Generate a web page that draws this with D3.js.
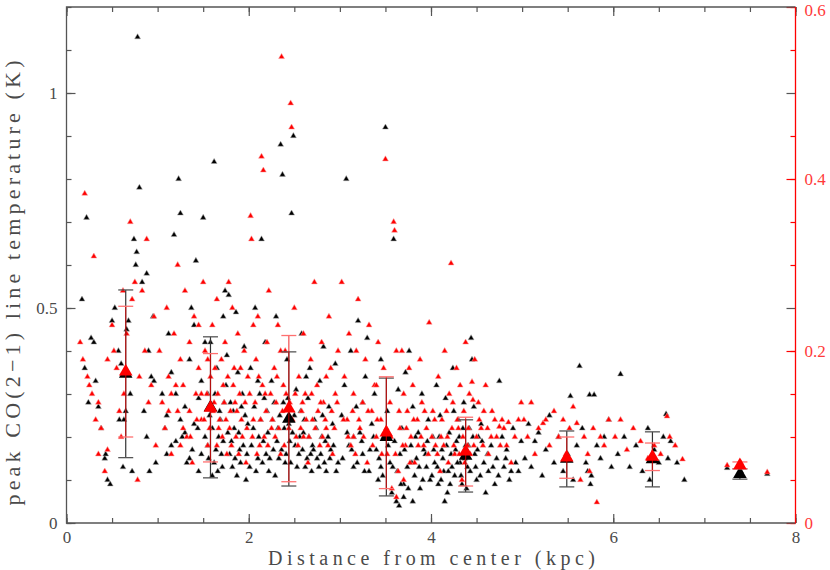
<!DOCTYPE html>
<html>
<head>
<meta charset="utf-8">
<script src="https://cdn.jsdelivr.net/npm/d3@7"></script>
<style>
  body { margin: 0; background: #fff; }
</style>
</head>
<body>
<svg id="chart" width="830" height="570"></svg>
<script>
// black points: [distance kpc, peak CO(2-1) K] (left axis)
const blackPts = [
  [0.17,0.52],[0.22,0.71],[0.2,0.36],[0.24,0.28],[0.27,0.43],[0.3,0.42],[0.32,0.33],[0.35,0.27],[0.38,0.22],[0.42,0.15],
  [0.45,0.1],[0.48,0.09],[0.5,0.47],[0.53,0.5],[0.57,0.4],[0.6,0.37],[0.63,0.24],[0.65,0.26],[0.7,0.3],[0.72,0.12],
  [0.74,0.66],[0.77,0.63],[0.8,0.78],[0.78,1.13],[0.76,0.6],[0.83,0.56],[0.88,0.58],[0.85,0.26],[0.88,0.2],[0.93,0.34],
  [0.96,0.33],[0.98,0.14],[0.91,0.12],[0.62,0.13],[0.58,0.24],[0.43,0.16],[0.68,0.47],[0.66,0.45],[0.9,0.4],[0.95,0.48],
  [1.05,0.3],[1.08,0.22],[1.1,0.16],[1.12,0.44],[1.15,0.35],[1.18,0.67],[1.2,0.3],[1.23,0.8],[1.25,0.72],[1.27,0.2],
  [1.3,0.27],[1.32,0.14],[1.35,0.38],[1.37,0.5],[1.4,0.23],[1.42,0.61],[1.45,0.12],[1.48,0.33],[1.5,0.71],[1.52,0.42],
  [1.55,0.18],[1.57,0.25],[1.6,0.11],[1.62,0.84],[1.63,0.3],[1.65,0.36],[1.67,0.2],[1.7,0.16],[1.72,0.48],[1.74,0.54],
  [1.76,0.39],[1.78,0.53],[1.8,0.28],[1.82,0.13],[1.84,0.22],[1.86,0.49],[1.88,0.35],[1.9,0.17],[1.92,0.27],[1.95,0.41],
  [1.97,0.1],[1.99,0.23],[1.15,0.18],[1.35,0.15],[1.55,0.3],[1.68,0.26],[1.72,0.19],[1.58,0.42],[1.45,0.29],[1.25,0.24],
  [1.85,0.15],[1.93,0.3],[1.75,0.32],[1.62,0.14],[1.4,0.46],
  [2.02,0.36],[2.05,0.22],[2.07,0.5],[2.1,0.15],[2.12,0.3],[2.14,0.66],[2.16,0.19],[2.18,0.42],[2.2,0.26],[2.22,0.12],
  [2.25,0.33],[2.27,0.17],[2.3,0.48],[2.32,0.22],[2.35,0.88],[2.37,0.81],[2.38,0.28],[2.4,0.14],[2.42,0.38],[2.45,0.19],
  [2.47,0.72],[2.49,0.9],[2.5,0.25],[2.52,0.31],[2.55,0.16],[2.58,0.44],[2.6,0.21],[2.62,0.13],[2.65,0.29],[2.67,0.36],
  [2.7,0.18],[2.72,0.24],[2.75,0.15],[2.78,0.33],[2.8,0.2],[2.82,0.41],[2.85,0.12],[2.88,0.27],[2.9,0.17],[2.92,0.23],
  [2.95,0.37],[2.98,0.14],[2.1,0.33],[2.28,0.28],[2.44,0.23],[2.56,0.2],[2.68,0.16],[2.84,0.19],[2.33,0.15],[2.63,0.34],
  [3.02,0.25],[3.05,0.32],[3.07,0.8],[3.1,0.18],[3.12,0.4],[3.15,0.13],[3.18,0.27],[3.2,0.47],[3.22,0.21],[3.25,0.16],
  [3.28,0.34],[3.3,0.43],[3.32,0.12],[3.35,0.23],[3.38,0.3],[3.4,0.17],[3.42,0.1],[3.45,0.38],[3.48,0.2],[3.5,0.92],
  [3.52,0.26],[3.55,0.14],[3.57,0.07],[3.59,0.66],[3.6,0.19],[3.62,0.05],[3.64,0.31],[3.66,0.16],[3.68,0.22],[3.7,0.09],
  [3.72,0.35],[3.74,0.13],[3.76,0.4],[3.78,0.18],[3.8,0.27],[3.82,0.11],[3.84,0.15],[3.86,0.21],[3.88,0.08],[3.9,0.3],
  [3.92,0.17],[3.95,0.13],[3.97,0.24],[3.99,0.1],[3.65,0.04],[3.7,0.06],[3.25,0.28],[3.45,0.13],[3.8,0.05],[3.15,0.2],
  [4.02,0.2],[4.04,0.14],[4.06,0.32],[4.08,0.09],[4.1,0.25],[4.12,0.17],[4.14,0.12],[4.16,0.29],[4.18,0.07],[4.2,0.21],
  [4.22,0.16],[4.24,0.36],[4.26,0.11],[4.28,0.19],[4.3,0.24],[4.32,0.14],[4.34,0.09],[4.36,0.28],[4.38,0.18],[4.4,0.13],
  [4.42,0.22],[4.44,0.43],[4.45,0.38],[4.47,0.27],[4.48,0.16],[4.5,0.1],[4.52,0.2],[4.55,0.23],[4.58,0.14],[4.6,0.07],
  [4.63,0.12],[4.66,0.18],[4.7,0.09],[4.72,0.15],[4.75,0.33],[4.78,0.2],[4.8,0.13],[4.83,0.17],[4.86,0.1],[4.9,0.22],
  [4.93,0.14],[4.96,0.12],[4.99,0.19],[4.15,0.05],[4.35,0.22],[4.25,0.26],
  [5.03,0.15],[5.07,0.23],[5.1,0.13],[5.14,0.19],[5.18,0.21],[5.22,0.11],[5.26,0.17],[5.3,0.25],[5.35,0.14],[5.4,0.2],
  [5.45,0.12],[5.5,0.16],[5.53,0.295],[5.56,0.1],[5.6,0.18],[5.63,0.365],[5.66,0.22],[5.7,0.14],[5.72,0.12],[5.74,0.298],
  [5.76,0.11],[5.79,0.298],[5.82,0.18],[5.86,0.15],[5.9,0.2],[5.95,0.24],[5.98,0.13],[5.75,0.09],
  [6.05,0.16],[6.08,0.346],[6.12,0.2],[6.18,0.13],[6.25,0.18],[6.32,0.12],[6.38,0.22],[6.45,0.17],[6.5,0.14],[6.55,0.2],
  [6.58,0.253],[6.6,0.15],[6.63,0.19],[6.7,0.14],[6.78,0.1],[6.4,0.1],
  [7.25,0.128],[7.4,0.12],[7.69,0.114],
  // dense band
  [1.52,0.2],[1.56,0.15],[1.6,0.22],[1.64,0.17],[1.66,0.12],[1.69,0.24],[1.71,0.13],[1.73,0.28],[1.77,0.21],[1.79,0.16],
  [1.81,0.19],[1.83,0.26],[1.87,0.11],[1.89,0.21],[1.91,0.14],[1.94,0.18],[1.96,0.25],[1.98,0.16],[2.01,0.13],[2.03,0.18],
  [2.06,0.27],[2.08,0.12],[2.11,0.2],[2.13,0.24],[2.15,0.14],[2.17,0.29],[2.19,0.16],[2.21,0.21],[2.23,0.15],[2.26,0.24],
  [2.29,0.11],[2.31,0.19],[2.34,0.25],[2.36,0.17],[2.39,0.22],[2.41,0.16],[2.43,0.29],[2.46,0.14],[2.48,0.21],[2.51,0.18],
  [2.53,0.13],[2.57,0.26],[2.59,0.17],[2.61,0.24],[2.64,0.15],[2.66,0.2],[2.69,0.12],[2.71,0.17],[2.74,0.22],[2.77,0.13],
  [2.79,0.16],[2.81,0.25],[2.83,0.14],[2.87,0.2],[2.89,0.15],[2.93,0.18],[2.96,0.12],[3.03,0.15],[3.08,0.21],[3.13,0.17],
  [3.19,0.14],[3.24,0.19],[3.27,0.12],[3.33,0.17],[3.37,0.2],[3.43,0.15],[3.47,0.11],[3.53,0.18],[3.58,0.13],[3.63,0.12],
  [3.67,0.09],[3.71,0.17],[3.75,0.08],[3.79,0.14],[3.83,0.2],[3.87,0.13],[3.91,0.1],[3.94,0.16],[3.96,0.19],[4.01,0.11],
  [4.03,0.17],[4.07,0.13],[4.09,0.2],[4.11,0.1],[4.13,0.15],[4.17,0.18],[4.19,0.12],[4.21,0.09],[4.23,0.13],[4.27,0.17],
  [4.29,0.14],[4.31,0.2],[4.33,0.11],[4.37,0.15],[4.39,0.08],[4.41,0.18],[4.43,0.12],[4.46,0.2],[4.49,0.13],[4.51,0.17],
  [4.54,0.11],[4.56,0.19],[4.62,0.16],[4.68,0.13],[4.74,0.11],[4.82,0.15],[4.88,0.12],[1.1,0.25],[1.2,0.19],[1.3,0.21],
  [1.38,0.17],[1.44,0.22],[1.48,0.16]
];

// red points: [distance kpc, value on the red right axis]
const redPts = [
  [0.2,0.383],[0.3,0.31],[0.15,0.21],[0.18,0.19],[0.23,0.17],[0.25,0.16],[0.28,0.15],[0.32,0.12],[0.35,0.08],[0.38,0.11],
  [0.42,0.06],[0.45,0.085],[0.5,0.23],[0.52,0.2],[0.55,0.18],[0.58,0.13],[0.6,0.1],[0.63,0.15],[0.66,0.22],[0.7,0.35],
  [0.72,0.26],[0.75,0.28],[0.78,0.05],[0.8,0.17],[0.83,0.27],[0.86,0.2],[0.88,0.33],[0.9,0.14],[0.93,0.16],[0.96,0.24],
  [0.98,0.09],[0.62,0.27],[0.45,0.19],[0.35,0.14],
  [1.02,0.2],[1.05,0.14],[1.08,0.11],[1.1,0.25],[1.12,0.17],[1.15,0.08],[1.18,0.22],[1.22,0.3],[1.22,0.13],[1.25,0.19],
  [1.28,0.16],[1.3,0.27],[1.32,0.1],[1.35,0.21],[1.38,0.07],[1.4,0.24],[1.42,0.15],[1.45,0.18],[1.48,0.12],[1.5,0.28],
  [1.52,0.2],[1.55,0.09],[1.58,0.17],[1.6,0.23],[1.62,0.14],[1.65,0.26],[1.67,0.11],[1.7,0.19],[1.72,0.16],[1.74,0.21],
  [1.76,0.08],[1.78,0.28],[1.8,0.13],[1.82,0.25],[1.84,0.18],[1.86,0.1],[1.88,0.22],[1.9,0.15],[1.92,0.12],[1.95,0.2],
  [1.97,0.07],[1.99,0.17],[1.15,0.15],[1.35,0.13],[1.55,0.19],[1.75,0.12],[1.65,0.09],[1.45,0.23],[1.25,0.09],[1.85,0.14],
  [2.02,0.357],[2.03,0.33],[2.05,0.12],[2.08,0.19],[2.1,0.24],[2.12,0.09],[2.14,0.426],[2.16,0.41],[2.18,0.15],[2.2,0.21],
  [2.22,0.27],[2.25,0.11],[2.28,0.18],[2.3,0.14],[2.32,0.23],[2.35,0.08],[2.36,0.542],[2.38,0.16],[2.4,0.2],[2.42,0.12],
  [2.46,0.488],[2.47,0.46],[2.5,0.25],[2.52,0.1],[2.55,0.17],[2.58,0.13],[2.6,0.22],[2.62,0.15],[2.65,0.07],[2.68,0.19],
  [2.7,0.12],[2.72,0.28],[2.75,0.16],[2.78,0.09],[2.8,0.21],[2.82,0.14],[2.85,0.11],[2.88,0.24],[2.9,0.18],[2.92,0.08],
  [2.95,0.15],[2.98,0.2],[2.15,0.16],[2.45,0.14],[2.6,0.1],[2.85,0.17],[2.35,0.2],[2.05,0.23],
  [3.02,0.28],[3.05,0.17],[3.08,0.12],[3.1,0.22],[3.12,0.09],[3.15,0.15],[3.18,0.2],[3.2,0.26],[3.22,0.11],[3.25,0.14],
  [3.28,0.19],[3.3,0.07],[3.32,0.23],[3.35,0.13],[3.38,0.16],[3.4,0.1],[3.42,0.21],[3.45,0.12],[3.48,0.18],[3.5,0.423],
  [3.52,0.08],[3.55,0.14],[3.57,0.04],[3.59,0.35],[3.6,0.34],[3.62,0.2],[3.64,0.06],[3.66,0.11],[3.68,0.2],[3.7,0.15],
  [3.72,0.09],[3.74,0.13],[3.76,0.18],[3.78,0.1],[3.8,0.16],[3.82,0.07],[3.85,0.12],[3.88,0.19],[3.9,0.14],[3.92,0.09],
  [3.95,0.11],[3.98,0.233],[3.62,0.03],[3.7,0.05],[3.4,0.16],[3.15,0.1],
  [4.02,0.13],[4.05,0.09],[4.08,0.17],[4.1,0.06],[4.12,0.12],[4.15,0.2],[4.18,0.1],[4.2,0.15],[4.22,0.302],[4.24,0.14],
  [4.26,0.08],[4.28,0.18],[4.3,0.11],[4.32,0.16],[4.34,0.05],[4.36,0.13],[4.38,0.21],[4.4,0.09],[4.42,0.15],[4.45,0.164],
  [4.46,0.143],[4.48,0.19],[4.5,0.1],[4.52,0.14],[4.55,0.11],[4.58,0.13],[4.6,0.16],[4.63,0.08],[4.66,0.1],[4.7,0.12],
  [4.75,0.112],[4.76,0.09],[4.8,0.11],[4.85,0.117],[4.88,0.07],[4.92,0.1],[4.96,0.12],[4.99,0.14],
  [5.02,0.12],[5.06,0.1],[5.1,0.14],[5.14,0.08],[5.18,0.11],[5.23,0.116],[5.26,0.12],[5.3,0.09],[5.35,0.13],[5.4,0.1],
  [5.45,0.12],[5.48,0.08],[5.52,0.11],[5.56,0.135],[5.6,0.116],[5.64,0.05],[5.68,0.1],[5.72,0.08],[5.74,0.06],[5.78,0.11],
  [5.82,0.024],[5.86,0.1],[5.9,0.09],[5.95,0.12],
  [6.02,0.1],[6.08,0.12],[6.15,0.085],[6.22,0.11],[6.3,0.095],[6.38,0.075],[6.45,0.09],[6.52,0.08],[6.59,0.124],[6.62,0.1],
  [6.68,0.09],[6.76,0.074],
  [7.25,0.067],[7.4,0.07],[7.69,0.059],
  // dense band
  [1.51,0.12],[1.54,0.15],[1.57,0.11],[1.61,0.13],[1.63,0.18],[1.66,0.15],[1.68,0.12],[1.71,0.1],[1.73,0.14],[1.77,0.17],
  [1.79,0.11],[1.81,0.09],[1.83,0.16],[1.87,0.13],[1.89,0.08],[1.91,0.18],[1.93,0.1],[1.96,0.14],[1.98,0.11],[2.01,0.15],
  [2.04,0.1],[2.07,0.14],[2.09,0.08],[2.11,0.17],[2.13,0.12],[2.17,0.1],[2.19,0.13],[2.21,0.09],[2.24,0.15],[2.26,0.12],
  [2.29,0.1],[2.31,0.17],[2.33,0.11],[2.37,0.13],[2.39,0.09],[2.41,0.15],[2.44,0.11],[2.48,0.12],[2.51,0.15],[2.54,0.09],
  [2.57,0.11],[2.59,0.14],[2.63,0.12],[2.66,0.1],[2.69,0.15],[2.73,0.11],[2.76,0.13],[2.79,0.14],[2.81,0.1],[2.84,0.12],
  [2.87,0.09],[2.91,0.13],[2.94,0.11],[2.97,0.14],[3.04,0.12],[3.09,0.1],[3.14,0.13],[3.17,0.08],[3.21,0.12],[3.26,0.1],
  [3.31,0.13],[3.36,0.09],[3.41,0.12],[3.46,0.08],[3.51,0.11],[3.56,0.1],[3.61,0.08],[3.65,0.13],[3.69,0.09],[3.73,0.11],
  [3.77,0.07],[3.81,0.12],[3.86,0.09],[3.89,0.1],[3.93,0.13],[3.97,0.08],[4.01,0.1],[4.04,0.12],[4.07,0.08],[4.11,0.1],
  [4.14,0.09],[4.17,0.13],[4.19,0.07],[4.23,0.11],[4.25,0.09],[4.29,0.12],[4.31,0.08],[4.35,0.1],[4.37,0.07],[4.41,0.11],
  [4.43,0.08],[4.47,0.09],[4.53,0.12],[4.57,0.09],[4.62,0.11],[4.67,0.13],[4.72,0.1],[4.78,0.12],[4.83,0.09],[1.12,0.13],
  [1.2,0.16],[1.28,0.11],[1.36,0.1],[1.43,0.12],[1.48,0.15]
];

// binned averages with 1-sigma bars
const binX = [0.65, 1.58, 2.44, 3.51, 4.38, 5.49, 6.43, 7.39];
const binBlackMean = [0.347, 0.269, 0.242, 0.200, 0.156, 0.149, 0.148, 0.114];
const binBlackSd = [0.195, 0.164, 0.156, 0.137, 0.084, 0.065, 0.064, 0.012];
const binRedMean = [0.176, 0.134, 0.133, 0.105, 0.083, 0.076, 0.077, 0.067];
const binRedSd = [0.076, 0.063, 0.085, 0.065, 0.040, 0.024, 0.016, 0.004];

const xTicks = [0, 2, 4, 6, 8];
const yLeftTicks = [0, 0.5, 1];
const yRightTicks = [0, 0.2, 0.4, 0.6];

const margin = {left: 66.5, right: 795.5, top: 7, bottom: 523};
const frameColor = "#555";
const labelColor = "#4a4a4a";
const red = "#ff0000";
const font = "'Liberation Serif', 'DejaVu Serif', serif";

const svg = d3.select("#chart");

const x = d3.scaleLinear().domain([0, 8]).range([margin.left, margin.right]);
const yL = d3.scaleLinear().domain([0, 1.2]).range([margin.bottom, margin.top]);
const yR = d3.scaleLinear().domain([0, 0.6]).range([margin.bottom, margin.top]);

const smallTri = d3.symbol(d3.symbolTriangle, 15);
const bigTri = d3.symbol(d3.symbolTriangle, 80);

// scatter
svg.append("g").selectAll("path").data(blackPts).join("path")
  .attr("d", smallTri)
  .attr("transform", d => `translate(${x(d[0])},${yL(d[1])})`)
  .attr("fill", "#000").attr("stroke", "#aaa").attr("stroke-width", 0.5);

svg.append("g").selectAll("path").data(redPts).join("path")
  .attr("d", smallTri)
  .attr("transform", d => `translate(${x(d[0])},${yR(d[1])})`)
  .attr("fill", red).attr("stroke", "#f9a0a0").attr("stroke-width", 0.5);

// error bars + big triangles
function drawBins(means, sds, scale, barColor, capColor, fill) {
  const g = svg.append("g");
  const bins = binX.map((b, i) => ({x: b, m: means[i], s: sds[i]}));
  g.selectAll("line.v").data(bins).join("line")
    .attr("x1", d => x(d.x)).attr("x2", d => x(d.x))
    .attr("y1", d => scale(d.m - d.s)).attr("y2", d => scale(d.m + d.s))
    .attr("stroke", barColor).attr("stroke-width", 1.2);
  ["lo", "hi"].forEach(k => {
    g.selectAll("line.c" + k).data(bins).join("line")
      .attr("x1", d => x(d.x) - 7.5).attr("x2", d => x(d.x) + 7.5)
      .attr("y1", d => scale(k === "lo" ? d.m - d.s : d.m + d.s))
      .attr("y2", d => scale(k === "lo" ? d.m - d.s : d.m + d.s))
      .attr("stroke", capColor).attr("stroke-width", 1.3);
  });
  g.selectAll("path").data(bins).join("path")
    .attr("d", bigTri)
    .attr("transform", d => `translate(${x(d.x)},${scale(d.m)})`)
    .attr("fill", fill);
}
drawBins(binBlackMean, binBlackSd, yL, "#333", "#555", "#000");
drawBins(binRedMean, binRedSd, yR, "rgba(235,0,0,0.7)", "#ff7070", red);

// axes
function styleAxis(g, color) {
  g.select(".domain").remove();
  g.selectAll(".tick line").attr("stroke", color).attr("stroke-width", 1.2);
  g.selectAll(".tick text")
    .attr("fill", color === red ? "#ff3a3a" : labelColor)
    .attr("font-family", font)
    .attr("font-size", 17);
}
const fmt = d => d === 0 ? "0" : String(d);
const xMinor = d3.range(0, 8.01, 0.5);

svg.append("g").attr("transform", `translate(0,${margin.bottom})`)
  .call(d3.axisBottom(x).tickValues(xMinor).tickSize(-5).tickFormat(""))
  .call(g => styleAxis(g, frameColor));
svg.append("g").attr("transform", `translate(0,${margin.bottom})`)
  .call(d3.axisBottom(x).tickValues(xTicks).tickSize(-9).tickPadding(8).tickFormat(fmt))
  .call(g => styleAxis(g, frameColor));
svg.append("g").attr("transform", `translate(0,${margin.top})`)
  .call(d3.axisTop(x).tickValues(xMinor).tickSize(-5).tickFormat(""))
  .call(g => styleAxis(g, frameColor));
svg.append("g").attr("transform", `translate(0,${margin.top})`)
  .call(d3.axisTop(x).tickValues(xTicks).tickSize(-9).tickFormat(""))
  .call(g => styleAxis(g, frameColor));

svg.append("g").attr("transform", `translate(${margin.left},0)`)
  .call(d3.axisLeft(yL).tickValues(d3.range(0, 1.21, 0.1)).tickSize(-5).tickFormat(""))
  .call(g => styleAxis(g, frameColor));
svg.append("g").attr("transform", `translate(${margin.left},0)`)
  .call(d3.axisLeft(yL).tickValues(yLeftTicks).tickSize(-9).tickPadding(9).tickFormat(fmt))
  .call(g => styleAxis(g, frameColor));

// right axis (red), left-axis major ticks mirrored in grey on top of it
const rightMinor = d3.range(0, 0.61, 0.05).filter(v => Math.abs(v - 0.25) > 1e-6 && Math.abs(v - 0.5) > 1e-6);
svg.append("g").attr("transform", `translate(${margin.right},0)`)
  .call(d3.axisRight(yR).tickValues(rightMinor).tickSize(-5).tickFormat(""))
  .call(g => styleAxis(g, red));
svg.append("g").attr("transform", `translate(${margin.right},0)`)
  .call(d3.axisRight(yR).tickValues(yRightTicks).tickSize(-9).tickPadding(9).tickFormat(fmt))
  .call(g => styleAxis(g, red))
  .call(g => g.selectAll(".tick text").filter(d => d === 0.6).attr("dy", "0.5em"));
svg.append("g").attr("transform", `translate(${margin.right},0)`)
  .call(d3.axisRight(yL).tickValues([0.5, 1]).tickSize(-9).tickFormat(""))
  .call(g => styleAxis(g, frameColor));

// frame
svg.append("path")
  .attr("d", `M${margin.right},${margin.top}H${margin.left}V${margin.bottom}H${margin.right}`)
  .attr("fill", "none").attr("stroke", frameColor).attr("stroke-width", 1.3);
svg.append("line")
  .attr("x1", margin.right).attr("x2", margin.right)
  .attr("y1", margin.top).attr("y2", margin.bottom)
  .attr("stroke", red).attr("stroke-width", 1.3);

// axis titles
svg.append("text")
  .attr("x", 431.5).attr("y", 565)
  .attr("text-anchor", "middle")
  .attr("textLength", 327).attr("lengthAdjust", "spacing")
  .attr("font-family", font)
  .attr("font-size", 20).attr("fill", labelColor)
  .text("Distance from center (kpc)");

svg.append("text")
  .attr("transform", "translate(20,283) rotate(-90)")
  .attr("text-anchor", "middle")
  .attr("textLength", 445).attr("lengthAdjust", "spacing")
  .attr("font-family", font)
  .attr("font-size", 22).attr("fill", labelColor)
  .text("peak CO(2\u22121) line temperature (K)");
</script>
</body>
</html>
